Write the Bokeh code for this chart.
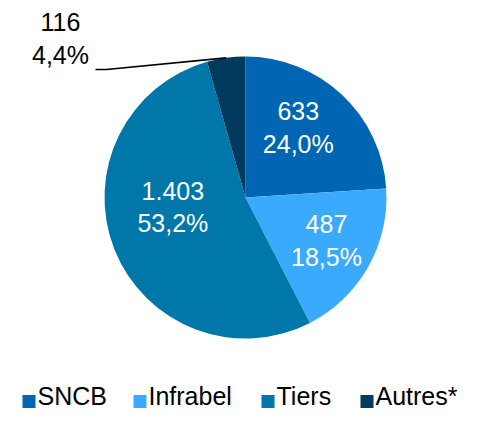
import math
from bokeh.plotting import figure
from bokeh.models import Range1d
from bokeh.embed import file_html
from bokeh.resources import INLINE
from bokeh.core.properties import value

# ---- data ----
categories = ["SNCB", "Infrabel", "Tiers", "Autres*"]
values = [633, 487, 1403, 116]
value_labels = ["633", "487", "1.403", "116"]
pct_labels = ["24,0%", "18,5%", "53,2%", "4,4%"]
colors = ["#0066B3", "#3AAAFF", "#0077A9", "#003A5F"]

# ---- layout (picture pixels -> data coords, 1 unit = 1 px) ----
W, H = 464, 409
def X(sx):
    return sx
def Y(sy):
    return H - sy

FONT = value("Liberation Sans")
p = figure(width=W, height=H, x_range=Range1d(0, W), y_range=Range1d(0, H),
           output_backend="svg", toolbar_location=None, min_border=0,
           x_axis_type=None, y_axis_type=None)
p.grid.visible = False
p.outline_line_color = None
p.background_fill_color = "white"
p.border_fill_color = "white"

cx, cy, r = X(245), Y(197), 141
total = float(sum(values))

starts, ends, mids = [], [], []
cum = 0.0
for v in values:
    a0 = math.pi / 2 - 2 * math.pi * cum / total
    cum += v
    a1 = math.pi / 2 - 2 * math.pi * cum / total
    starts.append(a0)
    ends.append(a1)
    mids.append((a0 + a1) / 2)

p.wedge(x=[cx] * len(values), y=[cy] * len(values), radius=r,
        start_angle=starts, end_angle=ends, direction="clock",
        fill_color=colors, line_color=None)

# inside labels (first three slices)
label_frac = [0.63, 0.66, 0.63]
nudges = [(-8, 5), (0, 3), (10, 23)]
lx, ly, lt = [], [], []
for i in range(3):
    rr = label_frac[i] * r
    lx.append(cx + rr * math.cos(mids[i]) + nudges[i][0])
    ly.append(cy + rr * math.sin(mids[i]) + nudges[i][1])
    lt.append(value_labels[i] + "\n" + pct_labels[i])
p.text(x=lx, y=ly, text=lt, text_color="white", text_font=FONT,
       text_font_size="25px", text_align="center", text_baseline="middle",
       text_line_height=1.16)

# outside label for the small slice with leader line
i = 3
ex = cx + r * math.cos(mids[i])
ey = cy + r * math.sin(mids[i])
p.line(x=[X(95), X(106), ex], y=[Y(69), Y(69), ey], line_color="black", line_width=1.6)
p.text(x=[X(60)], y=[Y(38)], text=[value_labels[i] + "\n" + pct_labels[i]],
       text_color="black", text_font=FONT, text_font_size="25px",
       text_align="center", text_baseline="middle", text_line_height=1.16)

# legend (manual, horizontal)
leg_sq_x = [22, 133, 261, 360]
leg_tx_x = [s + 15 for s in leg_sq_x]
p.rect(x=[X(s + 6.5) for s in leg_sq_x], y=[Y(401)] * 4, width=13, height=13,
       fill_color=colors, line_color=None)
p.text(x=[X(t) for t in leg_tx_x], y=[Y(395.5)] * 4, text=categories,
       text_color="black", text_font=FONT, text_font_size="25px",
       text_align="left", text_baseline="middle")

open("out.html", "w").write(file_html(p, INLINE))
